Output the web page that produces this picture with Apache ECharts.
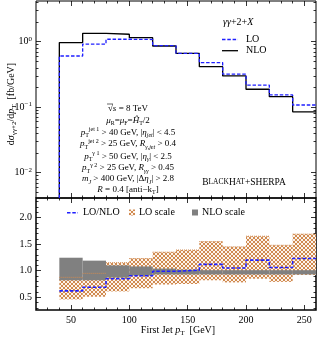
<!DOCTYPE html>
<html>
<head>
<meta charset="utf-8">
<script src="https://cdn.jsdelivr.net/npm/echarts@6/dist/echarts.min.js"></script>
<style>
html, body { margin: 0; padding: 0; background: #fff; }
#main { width: 326px; height: 345px; }
</style>
</head>
<body>
<div id="main"></div>
<script>
// bin edges of the first jet pT histogram (GeV)
const binEdges = [40, 60, 80, 100, 120, 140, 160, 180, 200, 220, 240, 260];
// dsigma/dpT [fb/GeV]
const nloValues = [0.97, 1.34, 1.30, 1.15, 0.86, 0.665, 0.415, 0.30, 0.188, 0.145, 0.085];
const loValues  = [0.605, 0.92, 1.09, 1.08, 0.87, 0.665, 0.48, 0.32, 0.218, 0.154, 0.108];
// ratio panel
const ratioValues  = [0.62, 0.69, 0.85, 0.905, 0.99, 1.01, 1.12, 1.05, 1.20, 1.06, 1.23];
const loScaleLow   = [0.46, 0.51, 0.61, 0.67, 0.74, 0.75, 0.82, 0.78, 0.85, 0.79, 0.92];
const loScaleHigh  = [0.875, 0.95, 1.15, 1.23, 1.35, 1.39, 1.55, 1.45, 1.65, 1.48, 1.69];
const nloScaleLow  = [0.82, 0.82, 0.87, 0.91, 0.93, 0.93, 0.93, 0.93, 0.93, 0.93, 0.93];
const nloScaleHigh = [1.245, 1.19, 1.10, 1.08, 1.04, 1.02, 1.01, 1.01, 1.01, 1.01, 1.01];
// tick labels
const xTicks = [50, 100, 150, 200, 250];
const logTicks = [0.01, 0.1, 1];
const ratioTicks = [0.5, 1.0, 1.5, 2.0];

const X_MIN = 20, X_MAX = 260;
const LOG_MIN = 0.00411, LOG_MAX = 4.18;
const R_MIN = 0.26, R_MAX = 2.37;
const SERIF = '"Liberation Serif", "DejaVu Serif", serif';
const ORANGE = '#d08a50';

// minor tick positions
const xMinor = [];
for (let v = 30; v < 260; v += 10) if (v % 50) xMinor.push(v);
const logMinor = [];
[0.001, 0.01, 0.1, 1].forEach(d => { for (let k = 2; k <= 9; k++) logMinor.push(+(k * d).toPrecision(3)); });
const rMinor = [];
for (let v = 3; v <= 23; v++) if (v % 5) rMinor.push(v / 10);

// crosshatch pattern
const hatch = document.createElement('canvas');
hatch.width = 4; hatch.height = 4;
(function () {
  const c = hatch.getContext('2d');
  c.fillStyle = '#fdf3ea';
  c.fillRect(0, 0, 4, 4);
  c.fillStyle = ORANGE;
  [[0,0],[1,1],[2,2],[3,3],[3,0],[2,1],[1,2],[0,3]].forEach(p => c.fillRect(p[0], p[1], 1, 1));
})();
const hatchFill = { image: hatch, repeat: 'repeat' };

function histPoints(vals, fromBottom) {
  const pts = fromBottom ? [[binEdges[0], LOG_MIN]] : [];
  vals.forEach((v, i) => pts.push([binEdges[i], v]));
  pts.push([binEdges[binEdges.length - 1], vals[vals.length - 1]]);
  return pts;
}
function bandData(lo, hi) {
  return lo.map((v, i) => [binEdges[i], binEdges[i + 1], v, hi[i]]);
}

const supLabel = {
  b: { fontFamily: SERIF, fontSize: 10, lineHeight: 13, color: '#000' },
  s: { fontFamily: SERIF, fontSize: 7, lineHeight: 8, verticalAlign: 'top', color: '#000' }
};
const expText = { 1: '0', 0.1: '\u22121', 0.01: '\u22122' };

function xAx(grid, pos, values, len, labels) {
  return {
    type: 'value', gridIndex: grid, min: X_MIN, max: X_MAX, position: pos,
    axisLine: { show: false }, splitLine: { show: false },
    axisTick: { show: true, inside: true, length: len, customValues: values,
      lineStyle: { color: '#000', width: 0.8 } },
    axisLabel: labels ? { show: true, customValues: values, margin: 5,
      fontFamily: SERIF, fontSize: 10, color: '#000' } : { show: false }
  };
}
function yAx(grid, type, pos, values, len, labels) {
  const ax = {
    type: type, gridIndex: grid, position: pos,
    min: type === 'log' ? LOG_MIN : R_MIN, max: type === 'log' ? LOG_MAX : R_MAX,
    axisLine: { show: false }, splitLine: { show: false },
    axisTick: { show: true, inside: true, length: len, customValues: values,
      lineStyle: { color: '#000', width: 0.8 } },
    axisLabel: { show: false }
  };
  if (type === 'log') ax.logBase = 10;
  if (labels) {
    ax.axisLabel = { show: true, customValues: values, margin: 4,
      fontFamily: SERIF, fontSize: 10, color: '#000' };
    if (type === 'log') {
      ax.axisLabel.formatter = v => '{b|10}{s|' + expText[+v.toPrecision(3)] + '}';
      ax.axisLabel.rich = supLabel;
    } else {
      ax.axisLabel.formatter = v => v.toFixed(1);
    }
  }
  return ax;
}

const rich = {
  n: { fontFamily: SERIF, fontSize: 9, lineHeight: 12, fill: '#000' },
  i: { fontFamily: SERIF, fontSize: 9, lineHeight: 12, fontStyle: 'italic', fill: '#000' },
  sup: { fontFamily: SERIF, fontSize: 6, lineHeight: 7, verticalAlign: 'top', fill: '#000' },
  sub: { fontFamily: SERIF, fontSize: 6, lineHeight: 7, verticalAlign: 'bottom', fill: '#000' },
  isub: { fontFamily: SERIF, fontSize: 6, lineHeight: 7, verticalAlign: 'bottom', fontStyle: 'italic', fill: '#000' },
  big: { fontFamily: SERIF, fontSize: 9.5, lineHeight: 12, fill: '#000' },
  sm: { fontFamily: SERIF, fontSize: 7.5, lineHeight: 12, verticalAlign: 'middle', fill: '#000' },
  L: { fontFamily: SERIF, fontSize: 10, lineHeight: 13, fill: '#000' },
  Li: { fontFamily: SERIF, fontSize: 10, lineHeight: 13, fontStyle: 'italic', fill: '#000' },
  Lsub: { fontFamily: SERIF, fontSize: 7, lineHeight: 8, verticalAlign: 'bottom', fill: '#000' }
};
function txt(x, y, text, align) {
  return { type: 'text', x: x, y: y, z: 100,
    style: { text: text, rich: rich, align: align || 'center', verticalAlign: 'middle' } };
}

const cutLines = [
  [109, '{n|\u221A}{i|s}{n| = 8 TeV}'],
  [120.5, '{i|\u03BC}{sub|R}{n|=}{i|\u03BC}{sub|F}{n|=}{i|\u0124}{sub|T}{n|/2}'],
  [132.5, '{i|p}{sub|T}{sup|jet 1}{n| > 40 GeV, |}{i|\u03B7}{isub|jet}{n|| < 4.5}'],
  [144, '{i|p}{sub|T}{sup|jet 2}{n| > 25 GeV, }{i|R}{isub|\u03B3,jet}{n| > 0.4}'],
  [156.5, '{i|p}{sub|T}{sup|\u03B3 1}{n| > 50 GeV, |}{i|\u03B7}{isub|\u03B3}{n|| < 2.5}'],
  [168, '{i|p}{sub|T}{sup|\u03B3 2}{n| > 25 GeV, }{i|R}{isub|\u03B3\u03B3}{n| > 0.45}'],
  [179, '{i|m}{isub|J}{n| > 400 GeV, |\u0394}{i|\u03B7}{isub|J}{n|| > 2.8}'],
  [189.5, '{i|R}{n| = 0.4 [anti\u2212k}{sub|T}{n|]}']
];

const graphics = cutLines.map(l => txt(128, l[0], l[1]));
graphics.push(
  { type: 'line', z: 100, shape: { x1: 107, y1: 104, x2: 113, y2: 104 }, style: { stroke: '#000', lineWidth: 0.6 } },
  txt(244, 182, '{big|B}{sm|LACK}{big|H}{sm|AT}{big|+SHERPA}'),
  txt(223, 22, '{Li|\u03B3\u03B3}{L|+2+}{Li|X}', 'left'),
  { type: 'line', z: 100, shape: { x1: 222, y1: 39.5, x2: 238, y2: 39.5 },
    style: { stroke: '#1f1fff', lineWidth: 1.3, lineDash: [3.5, 1.8] } },
  txt(246, 39.5, '{L|LO}', 'left'),
  { type: 'line', z: 100, shape: { x1: 222, y1: 50.7, x2: 238, y2: 50.7 },
    style: { stroke: '#000', lineWidth: 1.3 } },
  txt(246, 50.7, '{L|NLO}', 'left'),
  { type: 'line', z: 100, shape: { x1: 67, y1: 212.7, x2: 78, y2: 212.7 },
    style: { stroke: '#1f1fff', lineWidth: 1.5, lineDash: [3.5, 1.8] } },
  txt(83, 212.7, '{L|LO/NLO}', 'left'),
  { type: 'rect', z: 100, shape: { x: 129, y: 209.5, width: 6, height: 6 }, style: { fill: hatchFill } },
  txt(139, 212.7, '{L|LO scale}', 'left'),
  { type: 'rect', z: 100, shape: { x: 192, y: 209.5, width: 6, height: 6 }, style: { fill: '#808080' } },
  txt(202, 212.7, '{L|NLO scale}', 'left'),
  txt(178, 330, '{L|First Jet }{Li|p}{Lsub|T}{L|  [GeV]}'),
  { type: 'text', x: 11, y: 104, z: 100, rotation: Math.PI / 2,
    style: { text: '{L|d}{Li|\u03C3}{Lsub|\u03B3\u03B3+2}{L|/d}{Li|p}{Lsub|T}{L|  [fb/GeV]}',
      rich: rich, align: 'center', verticalAlign: 'middle' } }
);

function bandRender(fillStyle) {
  return function (params, api) {
    const p0 = api.coord([api.value(0), api.value(3)]);
    const p1 = api.coord([api.value(1), api.value(2)]);
    return { type: 'rect', shape: { x: p0[0], y: p0[1], width: p1[0] - p0[0], height: p1[1] - p0[1] },
      style: { fill: fillStyle } };
  };
}
function topEdgeRender(params, api) {
  const p0 = api.coord([api.value(0), api.value(3)]);
  const p1 = api.coord([api.value(1), api.value(3)]);
  return { type: 'line', shape: { x1: p0[0], y1: p0[1], x2: p1[0], y2: p1[1] },
    style: { stroke: ORANGE, lineWidth: 1, lineDash: [1, 1] } };
}

const chart = echarts.init(document.getElementById('main'));
chart.setOption({
  animation: false,
  grid: [
    { left: 36, width: 280, top: 1, height: 197, show: true, borderColor: '#000', borderWidth: 1, backgroundColor: 'transparent' },
    { left: 36, width: 280, top: 198, height: 112, show: true, borderColor: '#000', borderWidth: 1.5, backgroundColor: 'transparent' }
  ],
  xAxis: [
    xAx(0, 'bottom', xTicks, 5, false),
    xAx(1, 'bottom', xTicks, 5, true),
    xAx(0, 'bottom', xMinor, 2.5, false),
    xAx(0, 'top', xTicks, 5, false),
    xAx(0, 'top', xMinor, 2.5, false),
    xAx(1, 'bottom', xMinor, 2.5, false),
    xAx(1, 'top', xTicks, 5, false),
    xAx(1, 'top', xMinor, 2.5, false)
  ],
  yAxis: [
    yAx(0, 'log', 'left', logTicks, 5, true),
    yAx(1, 'value', 'left', ratioTicks, 5, true),
    yAx(0, 'log', 'left', logMinor, 2.5, false),
    yAx(0, 'log', 'right', logTicks, 5, false),
    yAx(0, 'log', 'right', logMinor, 2.5, false),
    yAx(1, 'value', 'left', rMinor, 2.5, false),
    yAx(1, 'value', 'right', ratioTicks, 5, false),
    yAx(1, 'value', 'right', rMinor, 2.5, false)
  ],
  series: [
    { name: 'NLO', type: 'line', xAxisIndex: 0, yAxisIndex: 0, step: 'end', symbol: 'none', z: 5,
      data: histPoints(nloValues, true), lineStyle: { color: '#000', width: 1.3 } },
    { name: 'LO', type: 'line', xAxisIndex: 0, yAxisIndex: 0, step: 'end', symbol: 'none', z: 6,
      data: histPoints(loValues, true), lineStyle: { color: '#1f1fff', width: 1.3, type: [3.5, 1.8] } },
    { name: 'LO scale', type: 'custom', xAxisIndex: 1, yAxisIndex: 1, z: 2,
      renderItem: bandRender(hatchFill), data: bandData(loScaleLow, loScaleHigh) },
    { name: 'NLO scale', type: 'custom', xAxisIndex: 1, yAxisIndex: 1, z: 3,
      renderItem: bandRender('#808080'), data: bandData(nloScaleLow, nloScaleHigh) },
    { name: 'LO edge', type: 'custom', xAxisIndex: 1, yAxisIndex: 1, z: 4,
      renderItem: topEdgeRender, data: bandData(loScaleLow, loScaleHigh) },
    { name: 'LO/NLO', type: 'line', xAxisIndex: 1, yAxisIndex: 1, step: 'end', symbol: 'none', z: 6,
      data: histPoints(ratioValues, false), lineStyle: { color: '#1f1fff', width: 1.6, type: [3.5, 1.8] } }
  ],
  graphic: graphics
});
</script>
</body>
</html>
